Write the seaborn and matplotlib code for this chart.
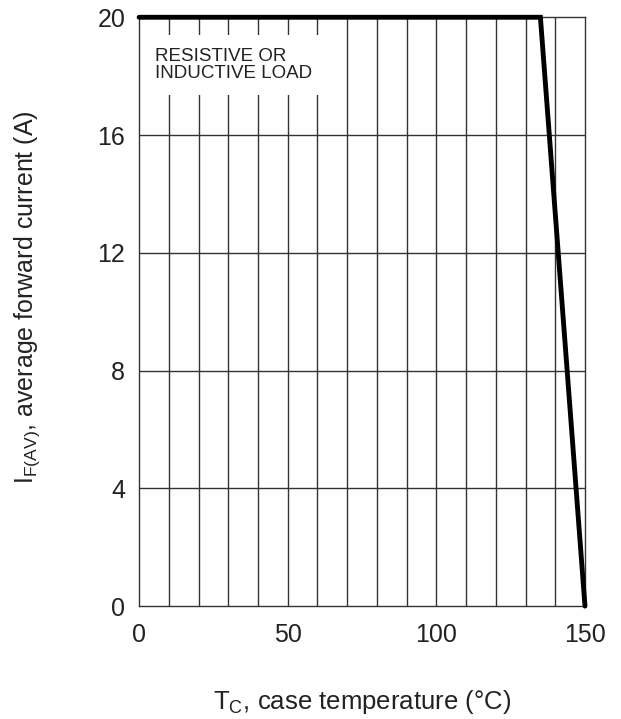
import numpy as np
import pandas as pd
import seaborn as sns
import matplotlib.pyplot as plt
from matplotlib.patches import Rectangle

# derating curve
case_temp = [0, 135, 150]
fwd_current = [20, 20, 0]
x_ticks = [0, 50, 100, 150]
y_ticks = [0, 4, 8, 12, 16, 20]

df = pd.DataFrame({'Tc': case_temp, 'IF': fwd_current})

sns.set_style('white')
plt.rcParams['font.family'] = ['Liberation Sans', 'DejaVu Sans']

fig = plt.figure(figsize=(6.21, 7.19), dpi=100)
ax = fig.add_axes([0.224, 0.157, 0.718, 0.819])

# grid: every 10 degC vertically, every 4 A horizontally
for v in np.arange(10, 150, 10):
    ax.axvline(v, color='#333333', lw=1.0, zorder=1)
for h in [4, 8, 12, 16]:
    ax.axhline(h, color='#333333', lw=1.0, zorder=1)

# white patch behind the note, hides the grid there
ax.add_patch(Rectangle((0.3, 17.35), 62.5, 2.05, facecolor='white',
                       edgecolor='none', zorder=2))
ax.text(5.3, 18.95, 'RESISTIVE OR\nINDUCTIVE LOAD', fontsize=13.5, va='top',
        ha='left', linespacing=1.0, zorder=3, color='#222222')

sns.lineplot(data=df, x='Tc', y='IF', ax=ax, color='black', lw=3.5,
             zorder=4, solid_joinstyle='miter', clip_on=False)

ax.set_xlim(0, 150)
ax.set_ylim(0, 20)
ax.set_xticks(x_ticks)
ax.set_yticks(y_ticks)
ax.tick_params(axis='both', length=0, labelsize=18, labelcolor='#222222')
ax.tick_params(axis='x', pad=12)
ax.tick_params(axis='y', pad=10)
for s in ax.spines.values():
    s.set_color('#333333')
    s.set_linewidth(1.0)

ax.set_xlabel(r'T$_\mathregular{C}$, case temperature (°C)', fontsize=18.5,
              labelpad=30, color='#222222')
ax.set_ylabel(r'I$_\mathregular{F(AV)}$, average forward current (A)',
              fontsize=18, color='#222222')
ax.yaxis.set_label_coords(-0.218, 0.525)

plt.savefig('out.png', dpi=100)
